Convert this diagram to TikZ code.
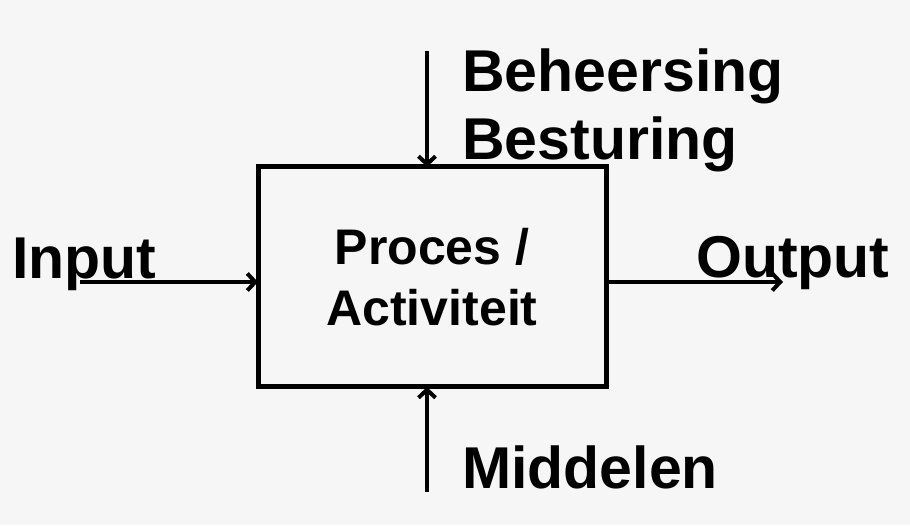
\documentclass[tikz,border=0pt]{standalone}
\usepackage{fontspec}
\setmainfont{Liberation Sans}
\usetikzlibrary{arrows.meta}
\usetikzlibrary{calc}
\definecolor{paperGrey}{RGB}{246, 246, 246}

\tikzset{
  bigtext/.style={font=\fontsize{59}{68}\selectfont\bfseries, inner sep=0pt,
                  anchor=base west},
  procbox/.style={draw, line width=5pt, outer sep=0pt, minimum width=348pt,
                  minimum height=220pt, align=center,
                  font=\fontsize{50}{61}\selectfont\bfseries}
}

\begin{document}
\begin{tikzpicture}[x=1pt, y=1pt, line width=4.5pt,
                    >={Straight Barb[length=8pt, width=17pt, line width=4pt]}]
      \fill [paperGrey] (0,0) rectangle (910,525);
      \useasboundingbox (0,0) rectangle (910,525);

      \node [procbox] (proces) at (432,248) {Proces /\\Activiteit};

      \node [bigtext] (input) at (10,246) {Input};
      \node [bigtext] (output) at (694,247) {Output};
      \node [bigtext] (beheersing) at (460,433) {Beheersing};
      \node [bigtext] (besturing) at (460,365) {Besturing};
      \node [bigtext] (middelen) at (460,37) {Middelen};

      \coordinate (inputTail) at (80,243);
      \coordinate (outputHead) at (783,243);
      \coordinate (controlTail) at (427,474);
      \coordinate (meansTail) at (427,33);

      \draw [->] (inputTail) -- (proces.west |- inputTail);
      \draw [->] (proces.east |- outputHead) -- (outputHead);
      \draw [->] (controlTail) -- (controlTail |- proces.north);
      \draw [->] (meansTail) -- (meansTail |- proces.south);
    \end{tikzpicture}
\end{document}
